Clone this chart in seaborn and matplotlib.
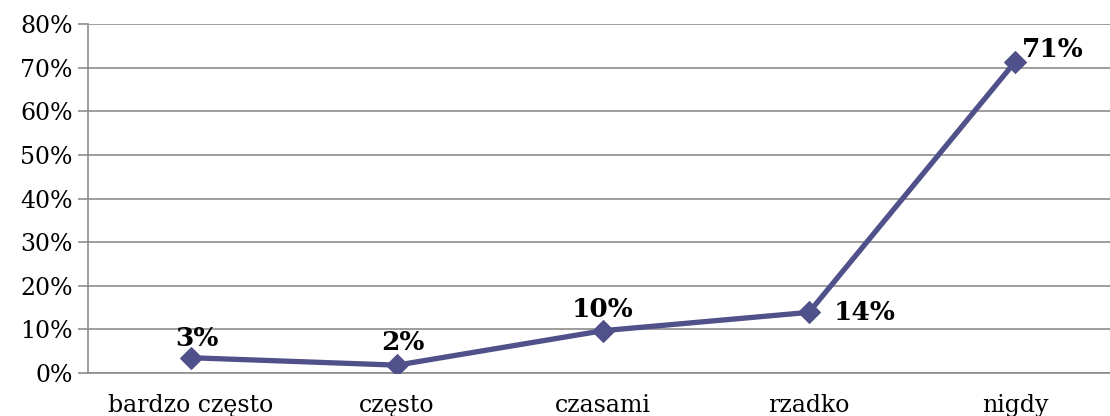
import numpy as np
import pandas as pd
import seaborn as sns
import matplotlib.pyplot as plt
from matplotlib.ticker import PercentFormatter

# Data
categories = ['bardzo często', 'często', 'czasami', 'rzadko', 'nigdy']
values = [3.5, 1.8, 9.7, 13.9, 71.3]
labels = ['3%', '2%', '10%', '14%', '71%']
yticks = [0, 10, 20, 30, 40, 50, 60, 70, 80]

line_color = '#50508A'
grid_color = '#8C8C8C'

sns.set_theme(style='white')
plt.rcParams['font.family'] = ['DejaVu Serif']

df = pd.DataFrame({'cat': categories, 'val': values})
df['x'] = np.arange(len(categories))

fig = plt.figure(figsize=(11.1, 4.16), dpi=100)
ax = fig.add_axes([88 / 1110, 43 / 416, 1030 / 1110, 349 / 416])

sns.lineplot(data=df, x='x', y='val', ax=ax, color=line_color, linewidth=3.8,
             marker='D', markersize=11, markeredgecolor=line_color, zorder=5)

ax.set_xlim(-0.5, len(categories) - 0.5)
ax.set_ylim(0, 80)
ax.set_yticks(yticks)
ax.yaxis.set_major_formatter(PercentFormatter(decimals=0))
ax.yaxis.grid(True, color=grid_color, linewidth=1.2)
ax.set_axisbelow(True)

# category labels centred, tick marks on the boundaries
ax.set_xticks(df['x'])
ax.set_xticklabels(categories)
ax.set_xticks(np.arange(-0.5, len(categories) + 0.5, 1), minor=True)
ax.tick_params(axis='x', which='major', length=0, pad=15, labelsize=17, labelcolor='black')
ax.tick_params(axis='x', which='minor', length=7, color=grid_color, width=1.2)
ax.tick_params(axis='y', length=7, color=grid_color, width=1.2, labelsize=17, pad=4,
               left=True, labelcolor='black')
for t in ax.get_xticklabels():
    t.set_verticalalignment('top')
ax.set_xlabel('')
ax.set_ylabel('')

for s in ['top', 'right']:
    ax.spines[s].set_visible(False)
for s in ['left', 'bottom']:
    ax.spines[s].set_color(grid_color)
    ax.spines[s].set_linewidth(1.2)

# data labels
offsets = [(4, 14), (4, 16), (0, 15), (40, 0), (27, 9)]
for i, (lab, off) in enumerate(zip(labels, offsets)):
    ax.annotate(lab, (df['x'][i], values[i]), xytext=off, textcoords='offset points',
                ha='center', va='center', fontsize=19, fontweight='bold', color='black')

plt.savefig('out.png', dpi=100)
